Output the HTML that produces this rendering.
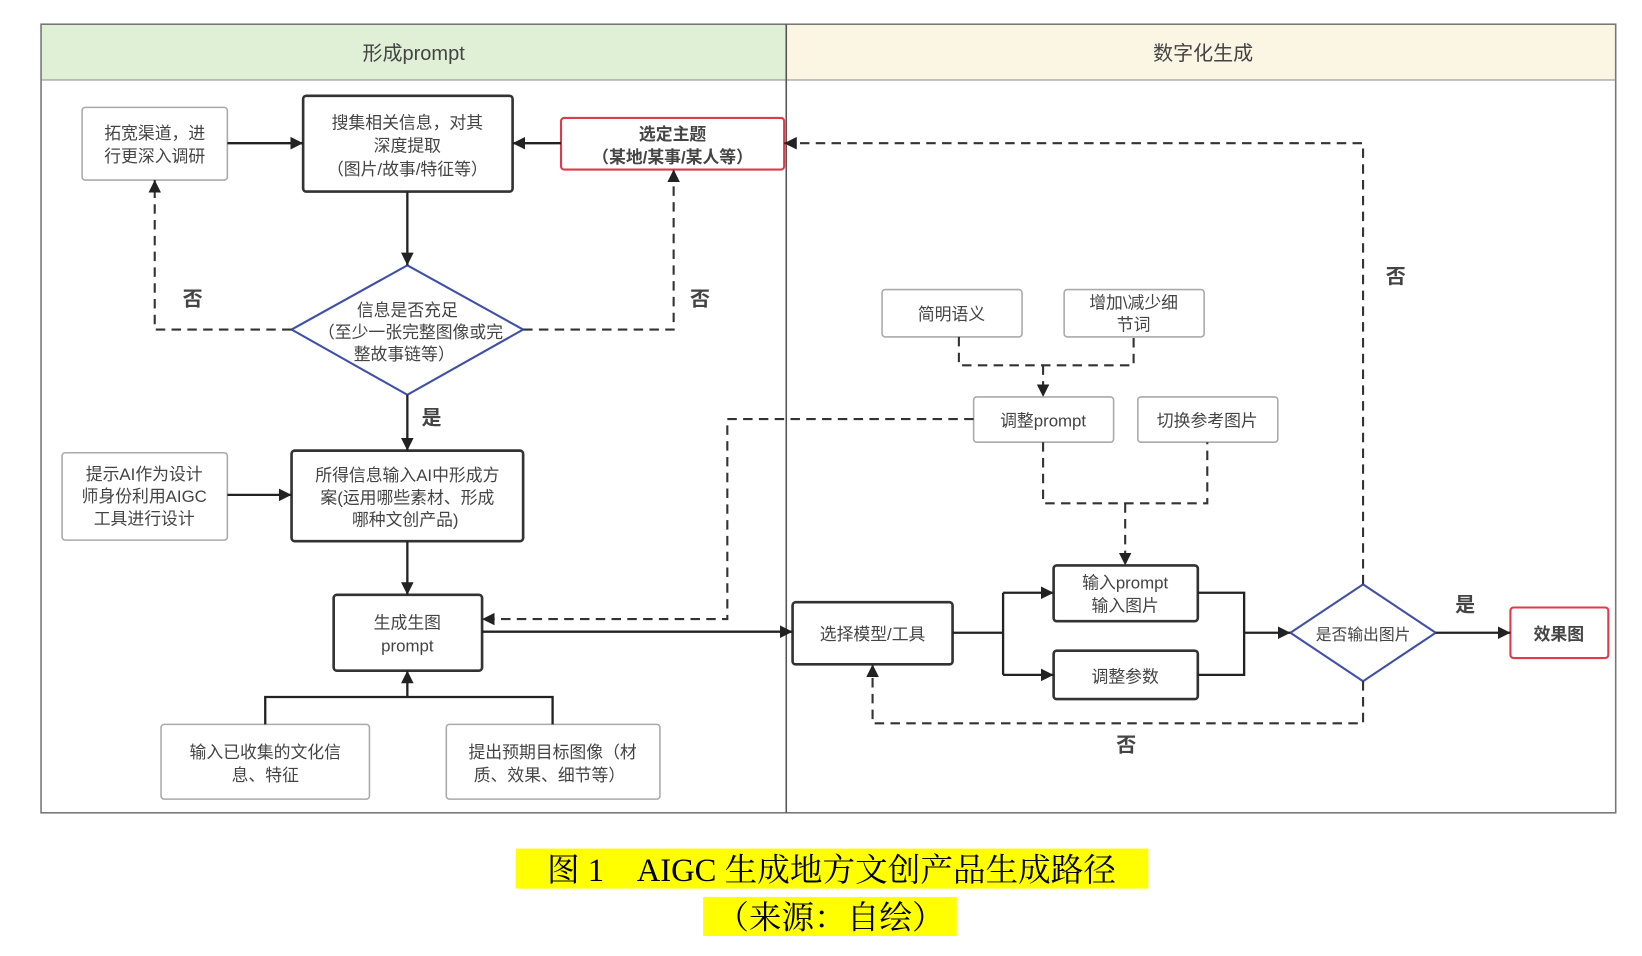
<!DOCTYPE html>
<html><head><meta charset="utf-8"><style>
html,body{margin:0;padding:0;background:#fff;}
svg{display:block;}
text{font-family:"Liberation Sans","Noto Sans CJK SC",sans-serif;fill:#444;}
</style></head><body>
<svg width="1642" height="956" viewBox="0 0 1560 908" preserveAspectRatio="none" xmlns="http://www.w3.org/2000/svg">
<defs>
<marker id="a" viewBox="0 0 10 10" refX="10" refY="5" markerWidth="12" markerHeight="12" markerUnits="userSpaceOnUse" orient="auto"><path d="M0,0L10,5L0,10z" fill="#222"/></marker>
</defs>
<rect x="39" y="23" width="708" height="53" fill="#dff0d6"/>
<rect x="747" y="23" width="788" height="53" fill="#fbf5e4"/>
<rect x="39" y="23" width="1496" height="749" fill="none" stroke="#777" stroke-width="1.5"/>
<line x1="39" y1="76" x2="1535" y2="76" stroke="#888"/>
<line x1="747" y1="23" x2="747" y2="772" stroke="#555" stroke-width="1.5"/>
<g font-size="19" text-anchor="middle">
<text x="393" y="57">形成prompt</text>
<text x="1143" y="57">数字化生成</text>
</g>
<g fill="#fff" stroke-width="1.5">
<rect x="78" y="102" width="138" height="69" rx="3" stroke="#aaa"/>
<rect x="288" y="91" width="199" height="91" rx="3" stroke="#333" stroke-width="2.5"/>
<rect x="533" y="112" width="212" height="49" rx="3" stroke="#e03a4a" stroke-width="2"/>
<polygon points="387,252 497,313 387,375 277,313" stroke="#4050a8" stroke-width="2"/>
<rect x="59" y="430" width="157" height="83" rx="3" stroke="#aaa"/>
<rect x="277" y="428" width="220" height="86" rx="3" stroke="#333" stroke-width="2.5"/>
<rect x="317" y="565" width="141" height="72" rx="3" stroke="#333" stroke-width="2.5"/>
<rect x="153" y="688" width="198" height="71" rx="3" stroke="#aaa"/>
<rect x="424" y="688" width="203" height="71" rx="3" stroke="#aaa"/>
<rect x="753" y="572" width="152" height="59" rx="3" stroke="#333" stroke-width="2.5"/>
<rect x="1001" y="537" width="137" height="53" rx="3" stroke="#333" stroke-width="2.5"/>
<rect x="1001" y="618" width="137" height="46" rx="3" stroke="#333" stroke-width="2.5"/>
<polygon points="1295,555 1364,601 1295,647 1226,601" stroke="#4050a8" stroke-width="2"/>
<rect x="1435" y="577" width="93" height="48" rx="3" stroke="#e03a4a" stroke-width="2"/>
<rect x="838" y="275" width="133" height="45" rx="3" stroke="#aaa"/>
<rect x="1011" y="275" width="133" height="45" rx="3" stroke="#aaa"/>
<rect x="925" y="377" width="133" height="43" rx="3" stroke="#aaa"/>
<rect x="1081" y="377" width="133" height="43" rx="3" stroke="#aaa"/>
</g>
<g fill="none" stroke="#222" stroke-width="2.2">
<line x1="216" y1="136" x2="288" y2="136" marker-end="url(#a)"/>
<line x1="533" y1="136" x2="487" y2="136" marker-end="url(#a)"/>
<line x1="387" y1="182" x2="387" y2="252" marker-end="url(#a)"/>
<line x1="387" y1="375" x2="387" y2="428" marker-end="url(#a)"/>
<line x1="216" y1="470" x2="277" y2="470" marker-end="url(#a)"/>
<line x1="387" y1="514" x2="387" y2="565" marker-end="url(#a)"/>
<polyline points="252,688 252,662 525,662 525,688"/>
<line x1="387" y1="662" x2="387" y2="637" marker-end="url(#a)"/>
<line x1="458" y1="600" x2="753" y2="600" marker-end="url(#a)"/>
<polyline points="905,601 953,601"/>
<polyline points="953,563 953,641"/>
<line x1="953" y1="563" x2="1001" y2="563" marker-end="url(#a)"/>
<line x1="953" y1="641" x2="1001" y2="641" marker-end="url(#a)"/>
<polyline points="1138,563 1182,563 1182,641 1138,641"/>
<line x1="1182" y1="601" x2="1226" y2="601" marker-end="url(#a)"/>
<line x1="1364" y1="601" x2="1435" y2="601" marker-end="url(#a)"/>
</g>
<g fill="none" stroke="#333" stroke-width="2" stroke-dasharray="9,6">
<polyline points="277,313 147,313 147,171" marker-end="url(#a)"/>
<polyline points="497,313 640,313 640,161" marker-end="url(#a)"/>
<polyline points="925,398 691,398 691,588 458,588" marker-end="url(#a)"/>
<polyline points="1295,647 1295,687 829,687 829,631" marker-end="url(#a)"/>
<polyline points="1295,555 1295,136 745,136" marker-end="url(#a)"/>
<polyline points="911,320 911,347 1077,347 1077,320"/>
<line x1="991" y1="347" x2="991" y2="377" marker-end="url(#a)"/>
<polyline points="991,420 991,478 1147,478 1147,420"/>
<line x1="1069" y1="478" x2="1069" y2="537" marker-end="url(#a)"/>
</g>
<g font-size="16" text-anchor="middle">
<text x="147" y="132">拓宽渠道，进</text><text x="147" y="154">行更深入调研</text>
<text x="387" y="122">搜集相关信息，对其</text><text x="387" y="144">深度提取</text><text x="387" y="166">（图片/故事/特征等）</text>
<text x="639" y="133" font-weight="bold" fill="#222">选定主题</text><text x="639" y="155" font-weight="bold" fill="#222">（某地/某事/某人等）</text>
<text x="387" y="300">信息是否充足</text><text x="390" y="321">（至少一张完整图像或完</text><text x="384" y="342">整故事链等）</text>
<text x="137" y="456">提示AI作为设计</text><text x="137" y="477">师身份利用AIGC</text><text x="137" y="498">工具进行设计</text>
<text x="387" y="457">所得信息输入AI中形成方</text><text x="387" y="478">案(运用哪些素材、形成</text><text x="385" y="499">哪种文创产品)</text>
<text x="387" y="597">生成生图</text><text x="387" y="619">prompt</text>
<text x="252" y="720">输入已收集的文化信</text><text x="252" y="742">息、特征</text>
<text x="525" y="720">提出预期目标图像（材</text><text x="522" y="742">质、效果、细节等）</text>
<text x="829" y="608">选择模型/工具</text>
<text x="1069" y="559">输入prompt</text><text x="1069" y="581">输入图片</text>
<text x="1069" y="648">调整参数</text>
<text x="1295" y="608" font-size="15">是否输出图片</text>
<text x="1481" y="608" font-weight="bold" fill="#222">效果图</text>
<text x="904" y="304">简明语义</text>
<text x="1077" y="293">增加\减少细</text><text x="1077" y="314">节词</text>
<text x="991" y="405">调整prompt</text>
<text x="1147" y="405">切换参考图片</text>
</g>
<g font-size="19" font-weight="bold" text-anchor="middle">
<text x="183" y="290" fill="#222">否</text>
<text x="665" y="290" fill="#222">否</text>
<text x="410" y="403" fill="#222">是</text>
<text x="1326" y="269" fill="#222">否</text>
<text x="1392" y="581" fill="#222">是</text>
<text x="1070" y="714" fill="#222">否</text>
</g>
<rect x="490" y="806" width="601" height="38" fill="#ffff00"/>
<rect x="668" y="852" width="241" height="37" fill="#ffff00"/>
<g font-size="31" text-anchor="middle">
<text x="790" y="837" style="font-family:'Liberation Serif','Noto Serif CJK SC',serif;fill:#000">图 1　AIGC 生成地方文创产品生成路径</text>
<text x="789" y="882" style="font-family:'Liberation Serif','Noto Serif CJK SC',serif;fill:#000">（来源：自绘）</text>
</g>
</svg>
</body></html>
